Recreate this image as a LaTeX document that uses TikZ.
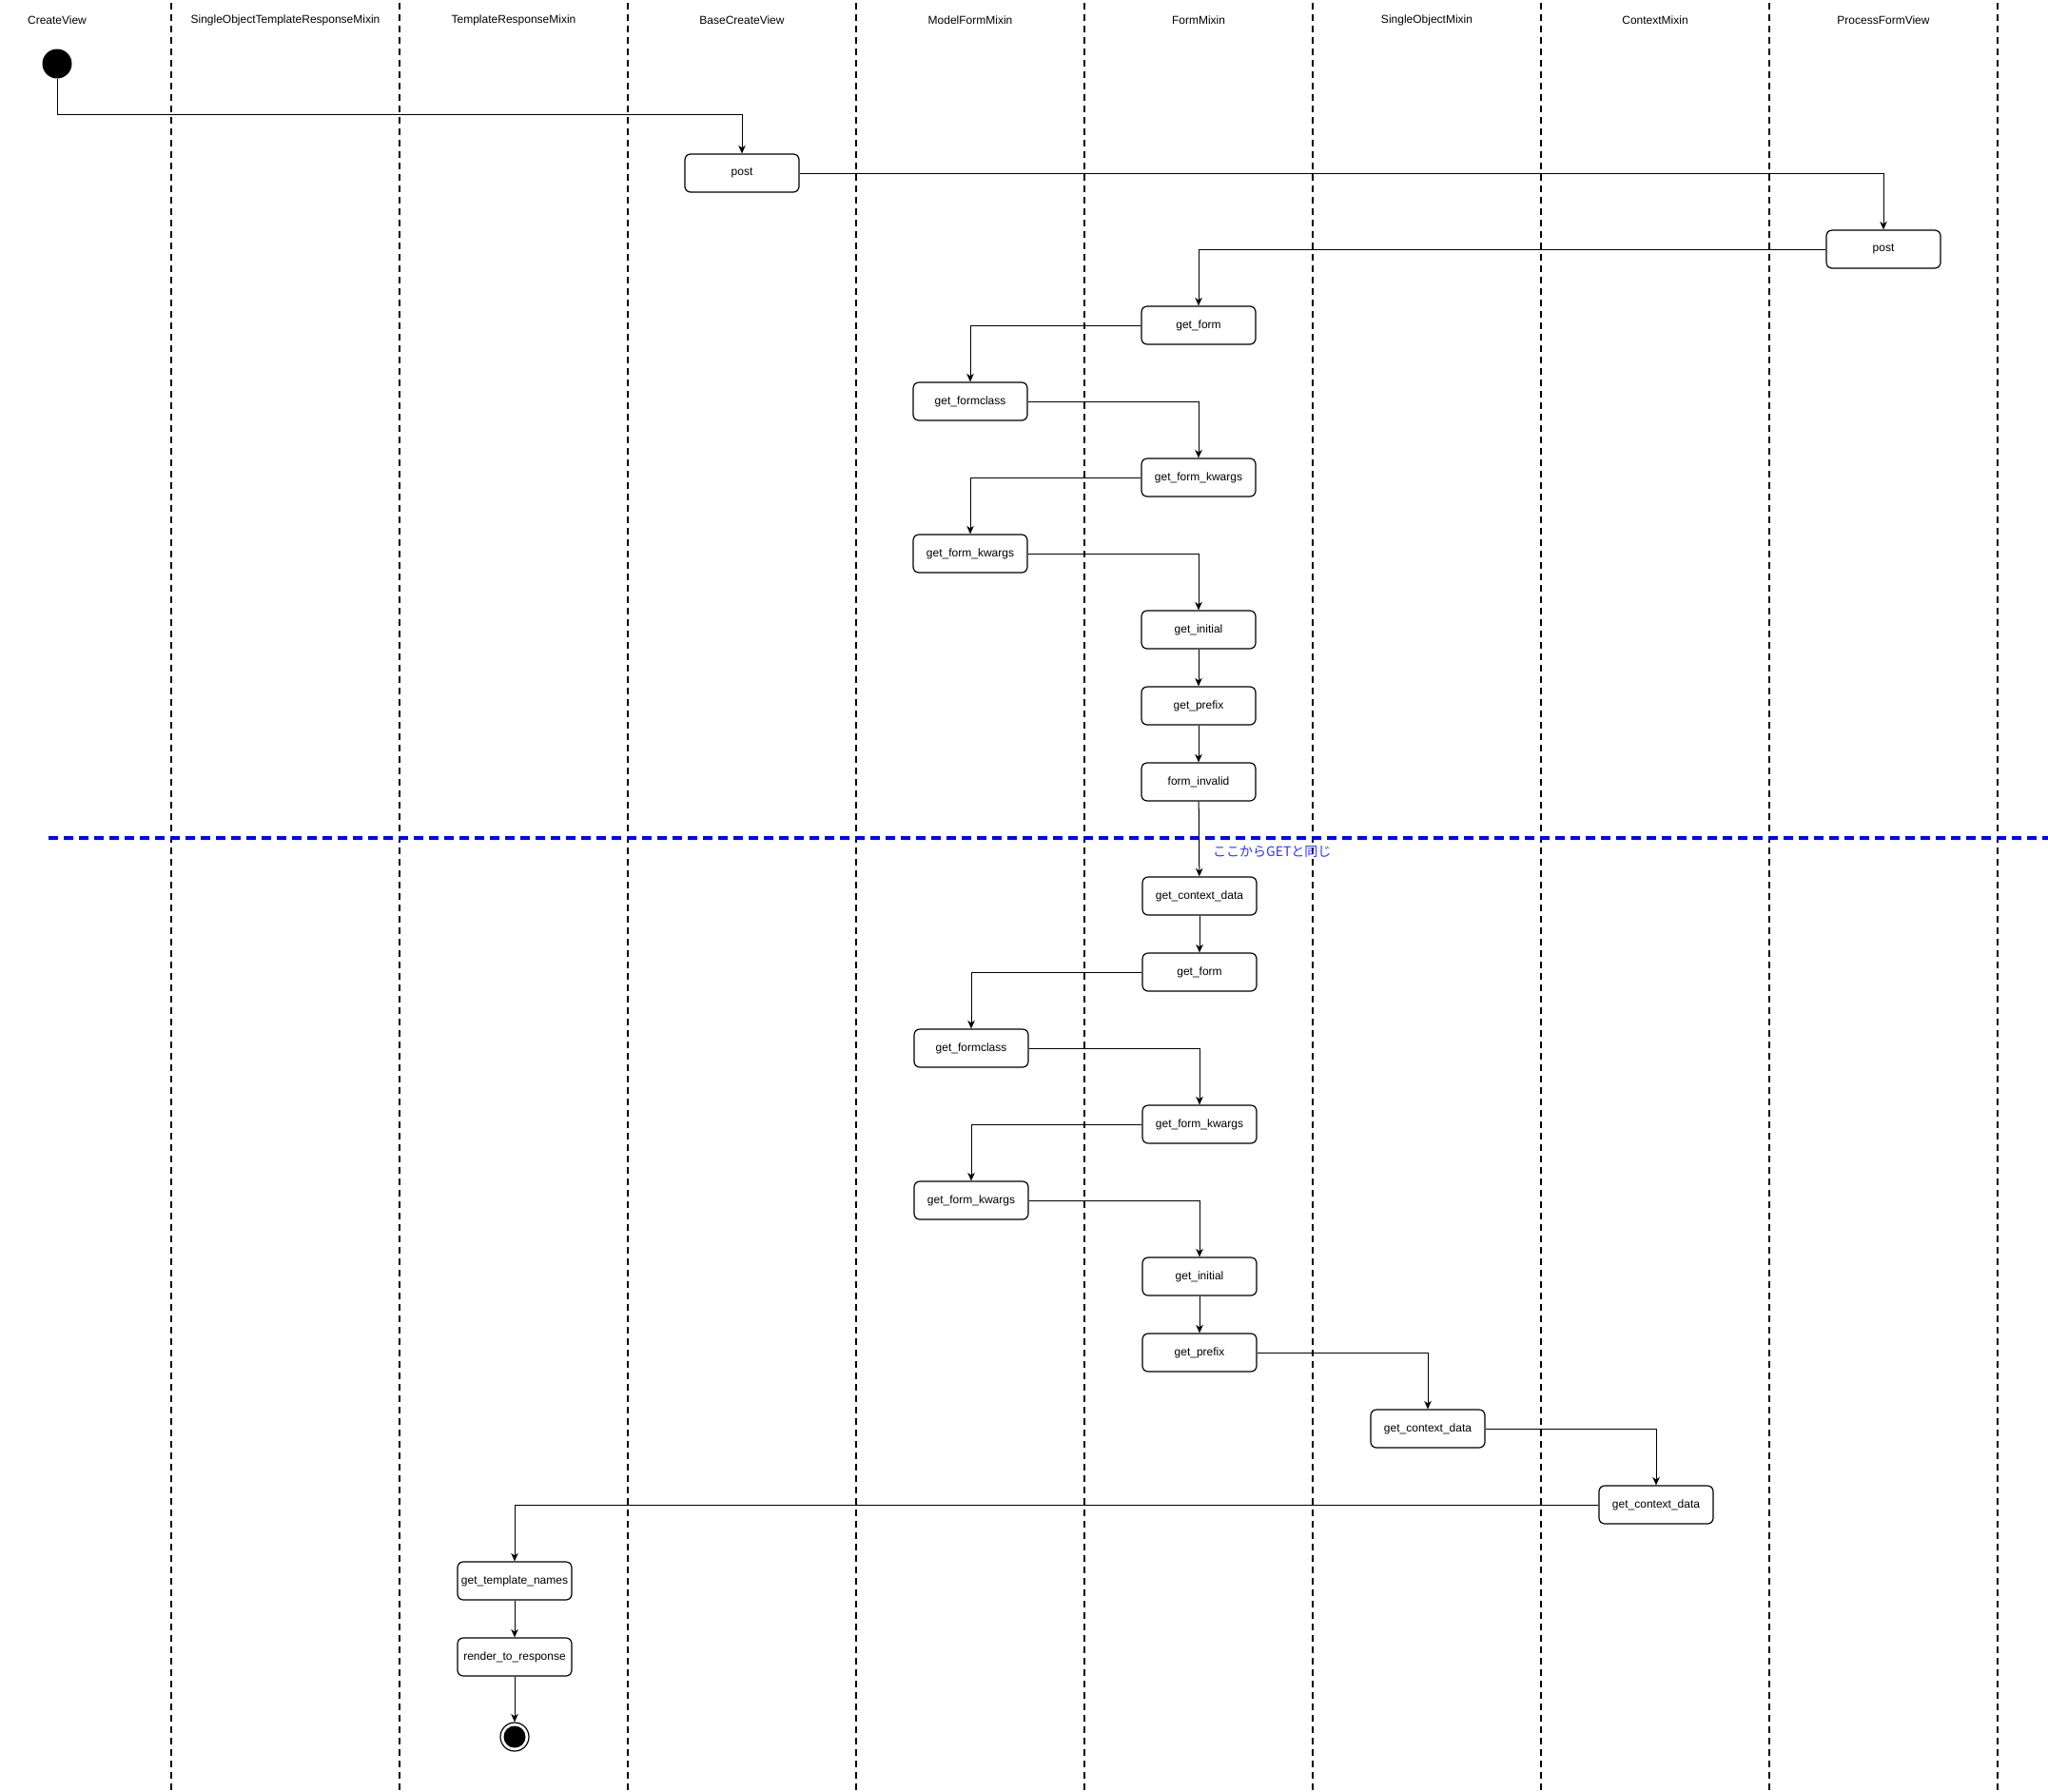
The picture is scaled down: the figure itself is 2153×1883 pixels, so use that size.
\documentclass[tikz,border=0pt]{standalone}
\usepackage{fontspec}
\setmainfont{Liberation Sans}
\newfontfamily\cjk{Noto Sans CJK JP}
\usetikzlibrary{arrows.meta}
\definecolor{notecol}{RGB}{51,51,255}
\begin{document}
\begin{tikzpicture}[x=1pt,y=-1pt,
  lane/.style={line width=2.2pt, dash pattern=on 7pt off 5pt},
  hdr/.style={font=\fontsize{12}{14}\selectfont, inner sep=0pt},
  fn/.style={draw, fill=white, rounded corners=6pt, minimum width=120pt, minimum height=40pt, inner sep=0pt, line width=1.2pt, font=\fontsize{12}{14}\selectfont},
  flow/.style={line width=1pt, -{Stealth[length=8.5pt,width=7.5pt,inset=2.5pt]}},
  startnode/.style={circle, fill=black, minimum size=31pt, inner sep=0pt},
  endnode/.style={circle, draw, line width=1.2pt, fill=white, minimum size=30pt, inner sep=0pt, path picture={\fill[black] (path picture bounding box.center) circle (11.5pt);}},
]
\useasboundingbox (0,0) rectangle (2153,1883);
\fill[white] (0,0) rectangle (2153,1883);
% swimlane separators
\foreach \i in {0,...,8} \draw[lane] (180+240*\i,3) -- (180+240*\i,1883);
% headers
\node[hdr] (h1) at (60,21) {CreateView};
\node[hdr] (h2) at (300,21) {SingleObjectTemplateResponseMixin};
\node[hdr] (h3) at (540,21) {TemplateResponseMixin};
\node[hdr] (h4) at (780,21) {BaseCreateView};
\node[hdr] (h5) at (1020,21) {ModelFormMixin};
\node[hdr] (h6) at (1260,21) {FormMixin};
\node[hdr] (h7) at (1500,21) {SingleObjectMixin};
\node[hdr] (h8) at (1740,21) {ContextMixin};
\node[hdr] (h9) at (1980,21) {ProcessFormView};
% blue separator
\draw[blue, line width=3.5pt, dash pattern=on 10pt off 6pt] (51,881) -- (2153,881);
\node[anchor=west, text=notecol, font=\cjk\fontsize{14}{16}\selectfont, inner sep=0pt] (note) at (1275,896) {ここからGETと同じ};
% nodes
\node[startnode] (start) at (60,67) {};
\node[fn] (post1) at (780,182) {post};
\node[fn] (post2) at (1980,262) {post};
\node[fn] (gf1) at (1260,342) {get\_form};
\node[fn] (gfc1) at (1020,422) {get\_formclass};
\node[fn] (gfk1) at (1260,502) {get\_form\_kwargs};
\node[fn] (gfk2) at (1020,582) {get\_form\_kwargs};
\node[fn] (gi1) at (1260,662) {get\_initial};
\node[fn] (gp1) at (1260,742) {get\_prefix};
\node[fn] (fi) at (1260,822) {form\_invalid};
\node[fn] (gcd1) at (1261,942) {get\_context\_data};
\node[fn] (gf2) at (1261,1022) {get\_form};
\node[fn] (gfc2) at (1021,1102) {get\_formclass};
\node[fn] (gfk3) at (1261,1182) {get\_form\_kwargs};
\node[fn] (gfk4) at (1021,1262) {get\_form\_kwargs};
\node[fn] (gi2) at (1261,1342) {get\_initial};
\node[fn] (gp2) at (1261,1422) {get\_prefix};
\node[fn] (gcd2) at (1501,1502) {get\_context\_data};
\node[fn] (gcd3) at (1741,1582) {get\_context\_data};
\node[fn] (gtn) at (541,1662) {get\_template\_names};
\node[fn] (rtr) at (541,1742) {render\_to\_response};
\node[endnode] (end) at (541,1826) {};
% connectors
\draw[flow] (start.south) |- ([yshift=41pt]post1.north) -- (post1.north);
\draw[flow] (post1.east) -| (post2.north);
\draw[flow] (post2.west) -| (gf1.north);
\draw[flow] (gf1.west) -| (gfc1.north);
\draw[flow] (gfc1.east) -| (gfk1.north);
\draw[flow] (gfk1.west) -| (gfk2.north);
\draw[flow] (gfk2.east) -| (gi1.north);
\draw[flow] (gi1) -- (gp1);
\draw[flow] (gp1) -- (fi);
\draw[flow] (fi) -- (gcd1);
\draw[flow] (gcd1) -- (gf2);
\draw[flow] (gf2.west) -| (gfc2.north);
\draw[flow] (gfc2.east) -| (gfk3.north);
\draw[flow] (gfk3.west) -| (gfk4.north);
\draw[flow] (gfk4.east) -| (gi2.north);
\draw[flow] (gi2) -- (gp2);
\draw[flow] (gp2.east) -| (gcd2.north);
\draw[flow] (gcd2.east) -| (gcd3.north);
\draw[flow] (gcd3.west) -| (gtn.north);
\draw[flow] (gtn) -- (rtr);
\draw[flow] (rtr) -- (end);
\end{tikzpicture}
\end{document}
